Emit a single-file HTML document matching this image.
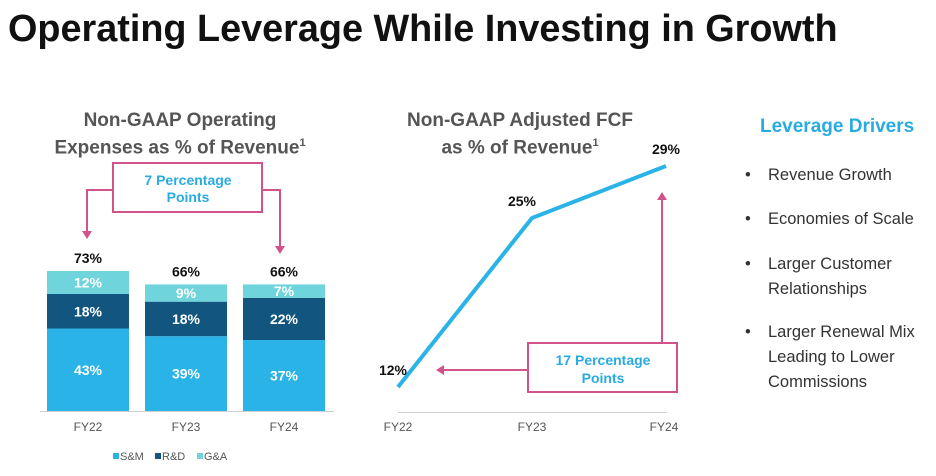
<!DOCTYPE html>
<html><head><meta charset="utf-8"><style>
body{margin:0;width:936px;height:476px;background:#fff;overflow:hidden;font-family:"Liberation Sans",Arial,sans-serif;}
.t{position:absolute;white-space:nowrap}
</style></head><body>
<div class="t" style="left:8px;top:8px;font-size:37.8px;font-weight:bold;color:#111;">Operating Leverage While Investing in Growth</div>
<div class="t" style="left:40px;top:110px;width:280px;text-align:center;font-size:19px;font-weight:bold;color:#555;line-height:22px;">Non-GAAP Operating<br>Expenses as % of Revenue<sup style="font-size:11px">1</sup></div>
<div class="t" style="left:380px;top:110px;width:280px;text-align:center;font-size:19px;font-weight:bold;color:#555;line-height:22px;">Non-GAAP Adjusted FCF<br>as % of Revenue<sup style="font-size:11px">1</sup></div>
<div class="t" style="left:760px;top:116px;font-size:19px;font-weight:bold;color:#29abe2;">Leverage Drivers</div>
<div style="position:absolute;left:745px;top:163px;font-size:16.5px;color:#333;line-height:25px;">
<div style="position:absolute;top:0;white-space:nowrap">•<span style="position:absolute;left:23px">Revenue Growth</span></div>
<div style="position:absolute;top:44px;white-space:nowrap">•<span style="position:absolute;left:23px">Economies of Scale</span></div>
<div style="position:absolute;top:89px;white-space:nowrap">•<span style="position:absolute;left:23px">Larger Customer<br>Relationships</span></div>
<div style="position:absolute;top:157px;white-space:nowrap">•<span style="position:absolute;left:23px">Larger Renewal Mix<br>Leading to Lower<br>Commissions</span></div>
</div>
<svg id="c" width="936" height="476" style="position:absolute;left:0;top:0" font-family="Liberation Sans, Arial, sans-serif"></svg>
<script>
const cats=["FY22","FY23","FY24"];
const sm=[43,39,37];
const rd=[18,18,22];
const ga=[12,9,7];
const totals=[73,66,66];
const fcf=[12,25,29];
const svg=document.getElementById('c');
const NS='http://www.w3.org/2000/svg';
function el(t,a,txt){const e=document.createElementNS(NS,t);for(const k in a)e.setAttribute(k,a[k]);if(txt!==undefined)e.textContent=txt;svg.appendChild(e);return e;}
const base=411,pp=1.918;
const by=v=>base-v*pp;
const bx=i=>47+i*98;
const bw=82;
let e=el('line',{x1:40,x2:334,y1:base+0.5,y2:base+0.5,stroke:'#d0d0d0','stroke-width':1});


const segs=[[sm,'#29b3e6','sm'],[rd,'#12557f','rd'],[ga,'#6fd4dc','ga']];
cats.forEach((c,i)=>{
  let acc=0;
  segs.forEach(([arr,col,nm])=>{
    const y1=by(acc),y2=by(acc+arr[i]);
    const r=el('rect',{x:bx(i),y:y2,width:bw,height:y1-y2,fill:col});
    
    
    const t=el('text',{x:bx(i)+bw/2,y:(y1+y2)/2+5,'text-anchor':'middle','font-size':14,'font-weight':'bold',fill:'#fff'},arr[i]+'%');
    
    
    acc+=arr[i];
  });
  const tt=el('text',{x:bx(i)+bw/2,y:by(totals[i])-8,'text-anchor':'middle','font-size':14,'font-weight':'bold',fill:'#111'},totals[i]+'%');
  
  
  const xl=el('text',{x:bx(i)+bw/2,y:431,'text-anchor':'middle','font-size':12,fill:'#555'},c);
  
  
});
[['S&M','#29b3e6'],['R&D','#12557f'],['G&A','#6fd4dc']].forEach((l,i)=>{
  const x=113+i*42;
  const r=el('rect',{x:x,y:453,width:6,height:6,fill:l[1]});
  
  
  const t=el('text',{x:x+7,y:460,'font-size':11,fill:'#555'},l[0]);
  
  
});
const pk='#d2528c';
e=el('path',{d:'M113 190 H87 V233 M262 190 H280 V248',fill:'none',stroke:pk,'stroke-width':2});


e=el('path',{d:'M82 231 L92 231 L87 239 Z M275 246 L285 246 L280 254 Z',fill:pk});


e=el('rect',{x:113,y:163,width:149,height:49,fill:'#fff',stroke:pk,'stroke-width':2});


e=el('text',{x:188,y:185,'text-anchor':'middle','font-size':14,'font-weight':'bold',fill:'#29abe2'},'7 Percentage');


e=el('text',{x:188,y:202,'text-anchor':'middle','font-size':14,'font-weight':'bold',fill:'#29abe2'},'Points');


const lx=i=>398+i*134;
const ly=v=>387-(v-12)*13;
e=el('line',{x1:398,x2:667,y1:412.5,y2:412.5,stroke:'#d0d0d0','stroke-width':1});


e=el('polyline',{points:fcf.map((v,i)=>lx(i)+','+ly(v)).join(' '),fill:'none',stroke:'#29b3e6','stroke-width':4});


const off=[[-5,-12],[-10,-12],[0,-12]];
fcf.forEach((v,i)=>{
  const t=el('text',{x:lx(i)+off[i][0],y:ly(v)+off[i][1],'text-anchor':'middle','font-size':14,'font-weight':'bold',fill:'#111'},v+'%');
  
  
  const xl=el('text',{x:lx(i)+(i==2?-2:0),y:431,'text-anchor':'middle','font-size':12,fill:'#555'},cats[i]);
  
  
});
e=el('path',{d:'M528 370 H442 M662 343 V198',fill:'none',stroke:pk,'stroke-width':2});


e=el('path',{d:'M436 370 L444 365 L444 375 Z M662 192 L657 200 L667 200 Z',fill:pk});


e=el('rect',{x:528,y:343,width:149,height:49,fill:'#fff',stroke:pk,'stroke-width':2});


e=el('text',{x:603,y:365,'text-anchor':'middle','font-size':14,'font-weight':'bold',fill:'#29abe2'},'17 Percentage');


e=el('text',{x:603,y:383,'text-anchor':'middle','font-size':14,'font-weight':'bold',fill:'#29abe2'},'Points');


</script>
</body></html>
